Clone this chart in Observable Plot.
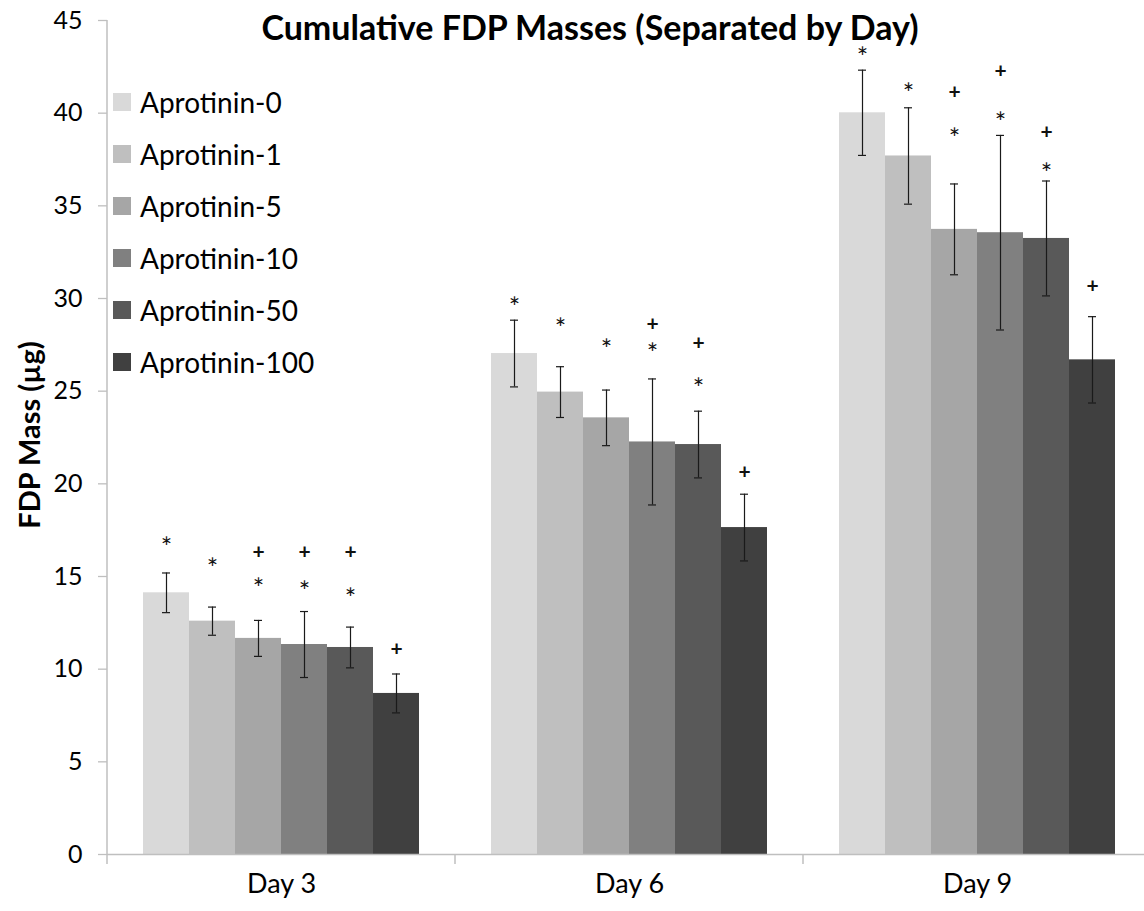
<!DOCTYPE html>
<html>
<head>
<meta charset="utf-8">
<script src="https://cdn.jsdelivr.net/npm/d3@7"></script>
<script src="https://cdn.jsdelivr.net/npm/@observablehq/plot@0.6"></script>
<style>
  html, body { margin: 0; padding: 0; background: #fff; }
  #wrap { position: relative; width: 1144px; height: 911px; overflow: hidden; font-family: Lato, "Open Sans", sans-serif; }
  #title { position: absolute; left: 590px; top: 7px; transform: translateX(-50%); white-space: nowrap;
           font-weight: bold; font-size: 34px; line-height: 40px; color: #000; }
  #legend { position: absolute; left: 113px; top: 76px; }
  .item { display: flex; align-items: center; height: 52px; font-size: 28px; color: #000; }
  .sw { width: 18px; height: 18px; margin-right: 9px; }
</style>
</head>
<body>
<div id="wrap">
  <div id="chart"></div>
  <div id="title">Cumulative FDP Masses (Separated by Day)</div>
  <div id="legend"></div>
</div>
<script>
const days = ["Day 3", "Day 6", "Day 9"];
const series = ["Aprotinin-0", "Aprotinin-1", "Aprotinin-5", "Aprotinin-10", "Aprotinin-50", "Aprotinin-100"];
const colors = ["#d9d9d9", "#bfbfbf", "#a6a6a6", "#808080", "#595959", "#404040"];
const yTicks = [0, 5, 10, 15, 20, 25, 30, 35, 40, 45];

const day3 = [14.12, 12.59, 11.66, 11.33, 11.17, 8.69];
const day3Err = [1.07, 0.76, 0.97, 1.78, 1.10, 1.05];
const day6 = [27.03, 24.95, 23.56, 22.26, 22.12, 17.64];
const day6Err = [1.80, 1.37, 1.50, 3.40, 1.80, 1.80];
const day9 = [40.02, 37.69, 33.73, 33.55, 33.24, 26.69];
const day9Err = [2.30, 2.60, 2.45, 5.25, 3.10, 2.33];

// significance markers: level (µg) at which each "*" / "+" sits, null = none
const day3Star = [16.95, 15.83, 14.73, 14.55, 14.19, null];
const day3Plus = [null, null, 16.31, 16.31, 16.31, 11.10];
const day6Star = [29.88, 28.75, 27.61, 27.41, 25.55, null];
const day6Plus = [null, null, null, 28.60, 27.57, 20.65];
const day9Star = [43.40, 41.46, 39.03, 39.88, 37.14, null];
const day9Plus = [null, null, 41.14, 42.27, 38.98, 30.67];

const values = [day3, day6, day9];
const errs = [day3Err, day6Err, day9Err];
const stars = [day3Star, day6Star, day9Star];
const pluses = [day3Plus, day6Plus, day9Plus];

const data = [];
const marks = [];
days.forEach((day, d) => {
  series.forEach((s, i) => {
    data.push({day, series: s, value: values[d][i], err: errs[d][i]});
    if (stars[d][i] != null) marks.push({day, series: s, y: stars[d][i], sym: "*"});
    if (pluses[d][i] != null) marks.push({day, series: s, y: pluses[d][i], sym: "+"});
  });
});

const font = "Lato, 'Open Sans', sans-serif";

const chart = Plot.plot({
  width: 1144,
  height: 911,
  marginTop: 20,
  marginBottom: 57,
  marginLeft: 107,
  marginRight: -7,
  style: {fontFamily: font, background: "#fff", overflow: "hidden"},
  fx: {domain: days, padding: 0, label: null},
  x: {domain: series, paddingInner: 0, paddingOuter: 0.74, axis: null},
  y: {domain: [0, 45], label: null},
  color: {domain: series, range: colors},
  marks: [
    Plot.barY(data, {fx: "day", x: "series", y: "value", fill: "series"}),
    Plot.ruleX(data, {fx: "day", x: "series", y1: d => d.value - d.err, y2: d => d.value + d.err, stroke: "#1a1a1a", strokeWidth: 1.2}),
    Plot.tickY(data, {fx: "day", x: "series", y: d => d.value - d.err, stroke: "#1a1a1a", strokeWidth: 1.2, insetLeft: 19, insetRight: 19}),
    Plot.tickY(data, {fx: "day", x: "series", y: d => d.value + d.err, stroke: "#1a1a1a", strokeWidth: 1.2, insetLeft: 19, insetRight: 19}),
    Plot.text(marks.filter(m => m.sym === "*"), {fx: "day", x: "series", y: "y", text: "sym", fontSize: 27, fill: "#111", lineAnchor: "middle", dy: 8}),
    Plot.text(marks.filter(m => m.sym === "+"), {fx: "day", x: "series", y: "y", text: "sym", fontSize: 21, fontWeight: "bold", fill: "#111", lineAnchor: "middle", dy: 0}),
    Plot.ruleY([0], {stroke: "#bfbfbf", strokeWidth: 1.5}),
    Plot.axisY({ticks: yTicks, tickSize: 9, text: null, stroke: "#bfbfbf", strokeWidth: 1.3}),
    Plot.axisY({ticks: yTicks, tickSize: 0, tickPadding: 25, fontSize: 25, fill: "#000", label: null}),
    Plot.axisFx({anchor: "bottom", tickSize: 0, tickPadding: 19, fontSize: 27, fill: "#000", label: null})
  ]
});

document.getElementById("chart").appendChild(chart);

// axis line and category boundary ticks, positioned through Plot's scales
const fx = chart.scale("fx");
const y = chart.scale("y");
const svg = d3.select(chart);
const bounds = days.map(d => fx.apply(d)).concat([fx.apply(days[days.length - 1]) + fx.bandwidth]);
svg.append("line")
  .attr("x1", bounds[0]).attr("x2", bounds[0])
  .attr("y1", y.apply(45)).attr("y2", y.apply(0) + 10)
  .attr("stroke", "#bfbfbf").attr("stroke-width", 1.5);
svg.append("g").selectAll("line").data(bounds.slice(1)).join("line")
  .attr("x1", d => d).attr("x2", d => d)
  .attr("y1", y.apply(0)).attr("y2", y.apply(0) + 10)
  .attr("stroke", "#bfbfbf").attr("stroke-width", 1.5);
svg.append("text")
  .attr("transform", `translate(28,${(y.apply(0) + y.apply(45)) / 2 - 2}) rotate(-90)`)
  .attr("text-anchor", "middle").attr("dominant-baseline", "central")
  .style("font-family", font).style("font-weight", "bold").style("font-size", "29px")
  .style("fill", "#000")
  .text("FDP Mass (µg)");

// legend
const legend = d3.select("#legend");
series.forEach((s, i) => {
  const item = legend.append("div").attr("class", "item");
  item.append("div").attr("class", "sw").style("background", colors[i]);
  item.append("span").text(s);
});
</script>
</body>
</html>
